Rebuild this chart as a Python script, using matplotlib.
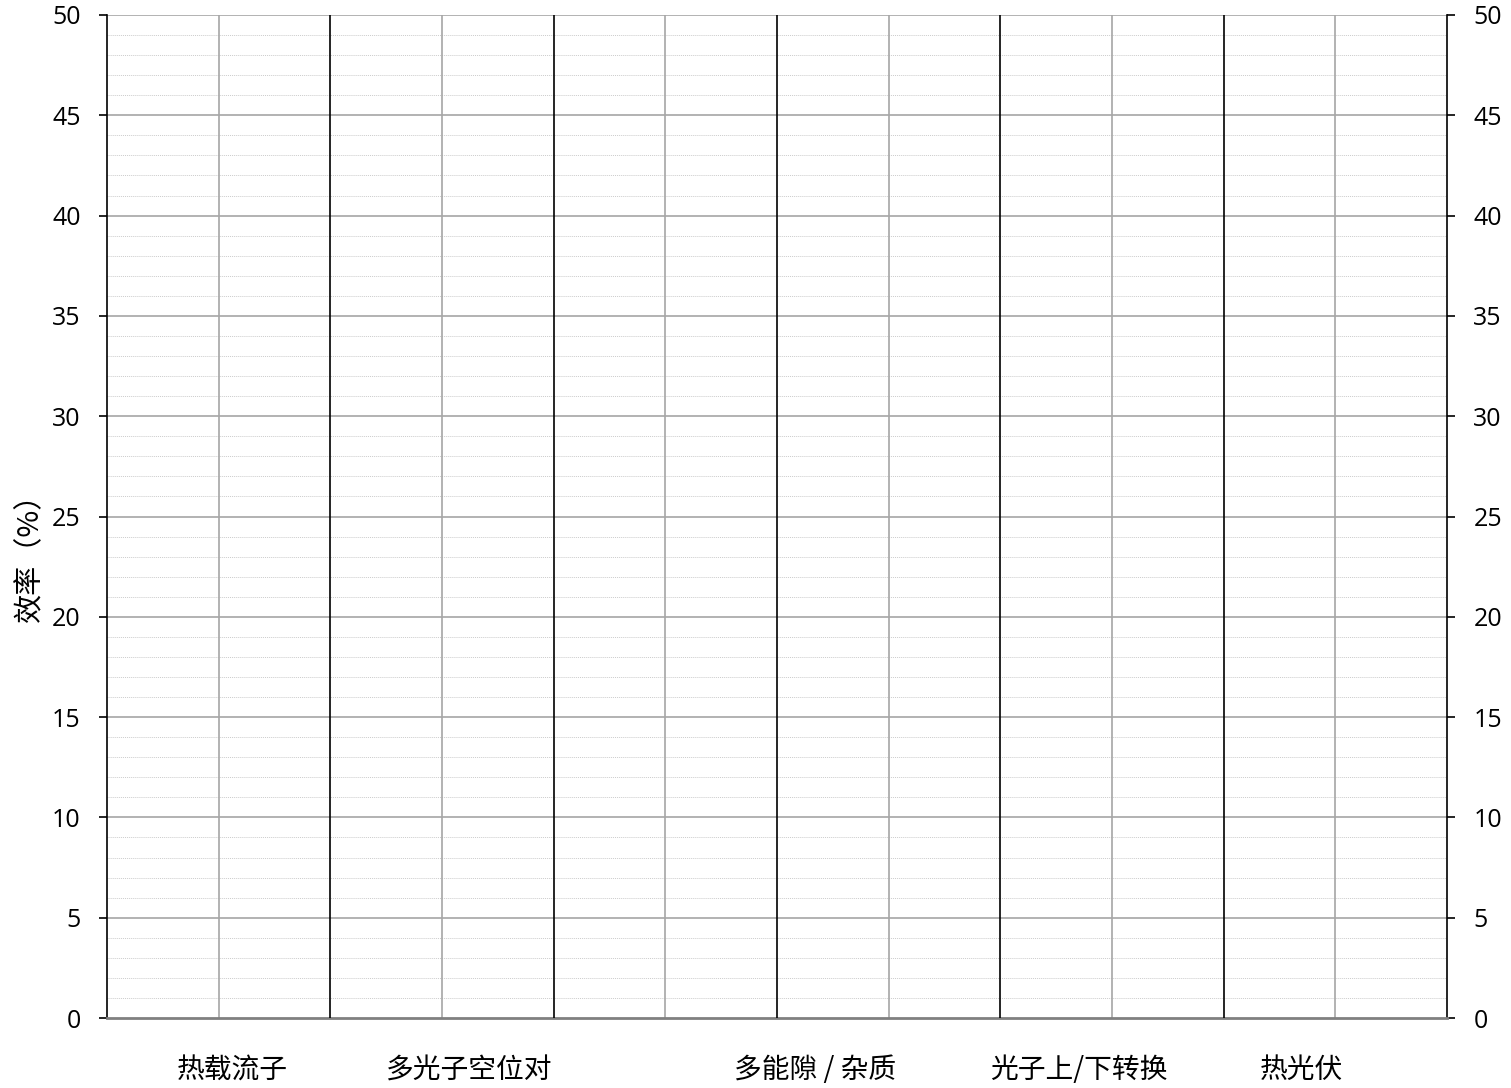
import matplotlib
matplotlib.use("Agg")
import matplotlib.pyplot as plt
import numpy as np

plt.rcParams['font.family'] = ['Open Sans', 'Noto Sans CJK SC', 'DejaVu Sans']

# data
categories = ['热载流子', '多光子空位对', '多能隙 / 杂质', '光子上/下转换', '热光伏']
label_pos = [0.56, 1.62, 3.17, 4.35, 5.35]   # where each name sits under the columns
n_columns = 6
y_major = list(range(0, 51, 5))
y_minor = list(range(0, 51, 1))
ylabel = '效率（%）'

fig = plt.figure(figsize=(15.11, 10.88), dpi=100)
ax = fig.add_axes([107 / 1511, 1 - 1018 / 1088, (1447 - 107) / 1511, (1018 - 15) / 1088])

ax.set_xlim(0, n_columns)
ax.set_ylim(0, 50)

# horizontal grid
for v in y_minor:
    if v % 5 != 0:
        ax.axhline(v, color='#cccccc', lw=0.7, ls=(0, (1, 1)), zorder=1)
for v in y_major[1:]:
    ax.axhline(v, color='#a6a6a6', lw=1.2, zorder=2)

# vertical lines: gray at column middles, black at boundaries
for i in range(n_columns):
    ax.axvline(i + 0.5, color='#a6a6a6', lw=1.2, zorder=2)
for i in range(1, n_columns):
    ax.axvline(i, color='black', lw=1.2, zorder=3)

for s in ['left', 'right']:
    ax.spines[s].set_color('black')
    ax.spines[s].set_linewidth(1.2)
ax.spines['top'].set_visible(False)
ax.spines['bottom'].set_color('#808080')
ax.spines['bottom'].set_linewidth(2)

ax.set_xticks([])
ax.set_yticks(y_major)
ax.tick_params(axis='y', which='both', left=True, right=True, labelleft=True, labelright=True,
               length=6, width=1.2, direction='out', labelsize=18, pad=13)

for x, name in zip(label_pos, categories):
    ax.text(x, -2.6, name, ha='center', va='center', fontsize=20,
            family=['Noto Sans CJK SC', 'DejaVu Sans'], transform=ax.transData)

fig.text(30 / 1511, 1 - 550 / 1088, ylabel, rotation=90, ha='center', va='center',
         fontsize=21, family=['Noto Sans CJK SC', 'DejaVu Sans'])

fig.savefig('out.png', dpi=100)
